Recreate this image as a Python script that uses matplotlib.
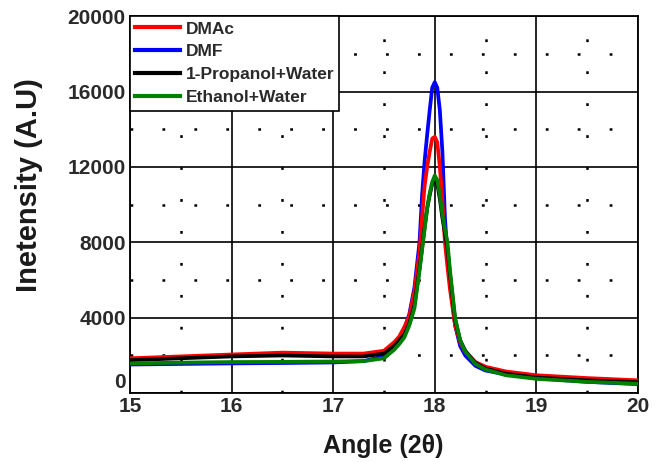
import matplotlib
matplotlib.use("Agg")
import matplotlib.pyplot as plt
from matplotlib.ticker import FixedLocator
from matplotlib.transforms import ScaledTranslation

plt.rcParams['font.family'] = ['Liberation Sans', 'DejaVu Sans']
plt.rcParams['lines.scale_dashes'] = False

# Diffraction angle (2-theta) sampling, denser across the 18 deg reflection
angle = [15.0, 15.5, 16.0, 16.5, 17.0, 17.3, 17.5, 17.6, 17.65, 17.7, 17.75,
         17.8, 17.85, 17.875, 17.9, 17.925, 17.95, 17.975, 18.0, 18.025,
         18.05, 18.075, 18.1, 18.125, 18.15, 18.2, 18.25, 18.3, 18.4, 18.5,
         18.7, 19.0, 19.5, 20.0]

# Intensities (A.U) for each casting solvent
dmac = [1850, 1950, 2050, 2150, 2100, 2100, 2250, 2700, 3000, 3500, 4100,
        5400, 7500, 9300, 11000, 12000, 12800, 13500, 13600, 13300,
        12000, 10200, 8000, 6700, 5500, 3600, 2700, 2200, 1650, 1400,
        1150, 950, 800, 680]
dmf = [1520, 1550, 1580, 1600, 1630, 1700, 1950, 2550, 2850, 3400, 4200,
       5600, 8000, 10500, 12300, 13700, 15000, 16200, 16500, 16200,
       15000, 12800, 9300, 7300, 6000, 3600, 2500, 2000, 1450, 1200,
       1000, 800, 600, 480]
propanol_water = [1750, 1850, 1950, 2000, 1950, 1950, 2100, 2500, 2800, 3100, 3700,
                  4700, 6600, 7700, 8800, 9800, 10500, 11100, 11350, 11100,
                  10300, 9300, 8500, 7700, 6300, 3900, 2800, 2250, 1600, 1300,
                  1030, 830, 680, 580]
ethanol_water = [1580, 1620, 1650, 1660, 1680, 1700, 1850, 2300, 2600, 2950, 3600,
                 4500, 6500, 7600, 8700, 9800, 10600, 11200, 11550, 11300,
                 10500, 9500, 8700, 8000, 6500, 4000, 2800, 2200, 1550, 1250,
                 950, 760, 600, 500]

series_labels = ["DMAc", "DMF", "1-Propanol+Water", "Ethanol+Water"]
x_ticks = [15, 16, 17, 18, 19, 20]
y_ticks = [0, 4000, 8000, 12000, 16000, 20000]
x_minor = [15.5, 16.5, 17.5, 18.5, 19.5]
y_minor = [2000, 6000, 10000, 14000, 18000]

fig = plt.figure(figsize=(6.66, 4.62), dpi=100)
ax = fig.add_axes([0.195, 0.149, 0.763, 0.816])

series = [dmac, dmf, propanol_water, ethanol_water]
colors = ["#ff0000", "#0000ff", "#000000", "#008000"]
zorders = [4, 3, 5, 6]
handles = []
for vals, col, z, lab in zip(series, colors, zorders, series_labels):
    h, = ax.plot(angle, vals, color=col, lw=2.7, zorder=z, label=lab,
                 solid_joinstyle='round')
    handles.append(h)

ax.set_xlim(15, 20)
ax.set_ylim(0, 20000)
ax.xaxis.set_major_locator(FixedLocator(x_ticks))
ax.yaxis.set_major_locator(FixedLocator(y_ticks))
ax.xaxis.set_minor_locator(FixedLocator(x_minor))
ax.yaxis.set_minor_locator(FixedLocator(y_minor))

ax.grid(which='major', color='black', lw=1.2, zorder=1)
ax.grid(which='minor', color='black', lw=1.8, linestyle=(0, (2, 21)), zorder=1)
ax.set_axisbelow(True)

ax.tick_params(which='both', length=0)
ax.tick_params(axis='x', pad=3, labelsize=15, labelcolor='#2a2a2a')
ax.tick_params(axis='y', pad=3, labelsize=15, labelcolor='#2a2a2a')
for lbl in ax.get_xticklabels() + ax.get_yticklabels():
    lbl.set_fontweight('bold')
# the "0" label sits on the x axis line, just above the "15"
zero_lbl = ax.get_yticklabels()[0]
zero_lbl.set_verticalalignment('bottom')
zero_lbl.set_transform(zero_lbl.get_transform()
                       + ScaledTranslation(0, 1.0 / 72, fig.dpi_scale_trans))

for sp in ax.spines.values():
    sp.set_color('black')
    sp.set_linewidth(1.3)

fig.text(383 / 666, 1 - 446 / 462, "Angle (2θ)", fontsize=18, fontweight='bold',
         color='#1a1a1a', ha='center', va='center')
fig.text(29 / 666, 1 - 185 / 462, "Inetensity (A.U)", fontsize=21, fontweight='bold',
         color='#1a1a1a', ha='center', va='center', rotation=90)

leg = ax.legend(handles=handles, loc='upper left', bbox_to_anchor=(0, 1),
                borderaxespad=0, prop={'weight': 'bold', 'size': 12.5},
                handlelength=2.6, handletextpad=0.3, labelspacing=0.45,
                borderpad=0.3, fancybox=False, framealpha=1, edgecolor='black')
leg.get_frame().set_linewidth(1.2)
for t in leg.get_texts():
    t.set_color('#2a2a2a')
for lh in leg.get_lines():
    lh.set_linewidth(3)

fig.savefig("out.png", dpi=100, facecolor='white')
